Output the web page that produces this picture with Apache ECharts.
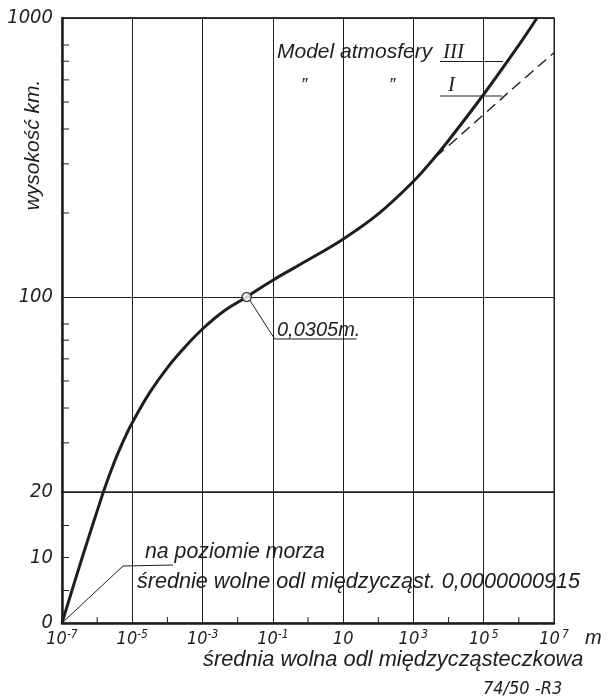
<!DOCTYPE html>
<html><head><meta charset="utf-8">
<script src="https://cdn.jsdelivr.net/npm/echarts@6/dist/echarts.min.js"></script>
<style>html,body{margin:0;padding:0;background:#fff}#c{width:616px;height:698px}</style>
</head><body><div id="c"></div>
<script>
// ---- data (mean free path in m, altitude in km) ----
const mfpLower = [1e-7, 1.93e-7, 3.76e-7, 7.47e-7, 1.5e-6];
const altLower = [0, 5, 10, 15, 20];
const mfpUpper = [1.5e-6, 2.45e-6, 4.0e-6, 6.54e-6, 1.07e-5, 3.19e-5, 1.04e-4, 3.16e-4, 1.03e-3, 4.35e-3, 0.018, 0.0945, 0.937, 9.91, 98.2, 973, 3606];
const altUpper = [20, 23.75, 27.73, 31.87, 36.03, 45.6, 56.2, 66.2, 77.1, 89.6, 100, 114.4, 135.1, 161.1, 198.1, 258.8, 311.1];
const mfpModel3 = [9.7e3, 9.66e4, 9.63e5, 3.28e6];
const altModel3 = [362.4, 529.7, 794.3, 1000];
const mfpModel1 = [973, 3606, 9.7e3, 9.66e4, 9.63e5, 1e7];
const altModel1 = [258.8, 311.1, 347.5, 449.0, 581.0, 750.6];
const markerMfp = [0.018];
const markerAlt = [100];
const xMinorTicks = [1e-6, 1e-4, 1e-2, 1, 100, 1e4, 1e6];
const yMinorTicks = [30, 40, 50, 60, 70, 80, 200, 300, 400, 500, 600, 700, 800];
const xMin = 1e-7, xMax = 1e7;

const INK = '#1e1e1e';
const NARROW = "'Liberation Sans Narrow','DejaVu Sans Condensed','Liberation Sans',sans-serif";
const SANS = "'Liberation Sans','DejaVu Sans',sans-serif";
const SERIF = "'Liberation Serif','DejaVu Serif',serif";

const zip = (a, b) => a.map((v, i) => [v, b[i]]);

function expLabel(v) {
  const e = Math.round(Math.log10(v));
  if (e === 1) return '{b|10}';
  return '{b|10}{s|' + (e < 0 ? '-' : '\u2009') + Math.abs(e) + '}';
}

const chart = echarts.init(document.getElementById('c'), null, {renderer: 'canvas'});
const option = {
  animation: false,
  backgroundColor: '#fff',
  grid: [
    {left: 62, right: 62, top: 18, height: 474, show: true, borderColor: INK, borderWidth: 1, backgroundColor: 'transparent'},
    {left: 62, right: 62, top: 492, height: 131, show: true, borderColor: INK, borderWidth: 1, backgroundColor: 'transparent'}
  ],
  xAxis: [
    {type: 'log', gridIndex: 0, min: xMin, max: xMax, interval: 2, position: 'top',
     axisLine: {show: true, onZero: false, lineStyle: {color: INK, width: 1.5}},
     axisTick: {show: false}, axisLabel: {show: false},
     splitLine: {show: true, lineStyle: {color: INK, width: 1}}},
    {type: 'log', gridIndex: 1, min: xMin, max: xMax, interval: 2, position: 'bottom',
     axisLine: {show: true, onZero: false, lineStyle: {color: INK, width: 2.5}},
     axisTick: {show: false},
     axisLabel: {margin: 6, color: INK, formatter: expLabel,
       rich: {
         b: {fontSize: 18, fontStyle: 'italic', fontFamily: NARROW, color: INK, lineHeight: 20},
         s: {fontSize: 12, fontStyle: 'italic', fontFamily: NARROW, color: INK, verticalAlign: 'top', lineHeight: 12}
       }},
     splitLine: {show: true, lineStyle: {color: INK, width: 1}}}
  ],
  yAxis: [
    {type: 'log', gridIndex: 0, min: 20, max: 1000, logBase: 10,
     axisLine: {show: true, onZero: false, lineStyle: {color: INK, width: 2.5}},
     axisTick: {show: true, inside: true, length: 7, lineStyle: {color: INK, width: 1}},
     axisLabel: {margin: 9, fontSize: 20, fontStyle: 'italic', fontFamily: NARROW, color: INK,
       showMinLabel: true, showMaxLabel: true, formatter: v => String(Math.round(v))},
     splitLine: {show: true, lineStyle: {color: INK, width: 1}}},
    {type: 'value', gridIndex: 1, min: 0, max: 20, interval: 10,
     axisLine: {show: true, onZero: false, lineStyle: {color: INK, width: 2.5}},
     axisTick: {show: true, inside: true, length: 7, lineStyle: {color: INK, width: 1}},
     minorTick: {show: true, splitNumber: 2, length: 7, lineStyle: {color: INK, width: 1}},
     axisLabel: {margin: 9, fontSize: 20, fontStyle: 'italic', fontFamily: NARROW, color: INK, showMaxLabel: false},
     splitLine: {show: false}}
  ],
  series: [
    {type: 'line', xAxisIndex: 1, yAxisIndex: 1, data: zip(mfpLower, altLower), symbol: 'none',
     smooth: 0.4, lineStyle: {color: INK, width: 3}, silent: true},
    {type: 'line', xAxisIndex: 0, yAxisIndex: 0, data: zip(mfpUpper.concat(mfpModel3), altUpper.concat(altModel3)), symbol: 'none',
     smooth: 0.4, lineStyle: {color: INK, width: 3}, silent: true},
    {type: 'line', xAxisIndex: 0, yAxisIndex: 0, data: zip(mfpModel1, altModel1), symbol: 'none',
     smooth: 0.4, lineStyle: {color: INK, width: 1.4, type: [11, 6]}, silent: true},
    {type: 'scatter', xAxisIndex: 0, yAxisIndex: 0, data: zip(markerMfp, markerAlt), symbol: 'circle', symbolSize: 9,
     itemStyle: {color: '#fff', borderColor: INK, borderWidth: 1.5}, z: 5, silent: true},
    {type: 'custom', xAxisIndex: 0, yAxisIndex: 0, data: yMinorTicks.map(v => [xMin, v]), silent: true, clip: false,
     renderItem: (params, api) => {
       const p = api.coord([api.value(0), api.value(1)]);
       return {type: 'line', shape: {x1: p[0], y1: p[1], x2: p[0] + 7, y2: p[1]}, style: {stroke: INK, lineWidth: 1}};
     }},
    {type: 'custom', xAxisIndex: 1, yAxisIndex: 1, data: xMinorTicks.map(v => [v, 0]), silent: true, clip: false,
     renderItem: (params, api) => {
       const p = api.coord([api.value(0), api.value(1)]);
       return {type: 'line', shape: {x1: p[0], y1: p[1], x2: p[0], y2: p[1] - 6}, style: {stroke: INK, lineWidth: 1}};
     }}
  ]
};
chart.setOption(option);

const o = chart.convertToPixel({xAxisIndex: 1, yAxisIndex: 1}, [xMin, 0]);
const m = chart.convertToPixel({xAxisIndex: 0, yAxisIndex: 0}, [markerMfp[0], markerAlt[0]]);
const txt = (text, x, y, size, extra) => Object.assign({type: 'text', x: x, y: y, silent: true,
  style: Object.assign({text: text, fill: INK, fontSize: size, fontStyle: 'italic', fontFamily: SANS, align: 'left', verticalAlign: 'middle'}, extra || {})});
const line = (pts, w) => ({type: 'polyline', silent: true, shape: {points: pts}, style: {stroke: INK, lineWidth: w || 1, fill: null}});

chart.setOption({graphic: [
  // y axis title
  Object.assign(txt('wysokość km.', 33, 145, 21, {align: 'center'}), {rotation: Math.PI / 2}),
  // series labels
  txt('Model atmosfery', 277, 52, 21),
  txt('III', 443, 52, 21, {fontFamily: SERIF}),
  line([[440, 61.5], [503, 61.5]], 1),
  txt('\u201D', 301, 86, 18),
  txt('\u201D', 389, 86, 18),
  txt('I', 448, 85, 21, {fontFamily: SERIF}),
  line([[440, 96], [502, 96]], 1),
  // marker annotation
  line([[m[0] + 3, m[1] + 3], [m[0] + 28, m[1] + 42], [m[0] + 110, m[1] + 42]], 1),
  txt('0,0305m.', 277, 330, 20),
  // sea level annotation
  line([[o[0], o[1]], [o[0] + 61, o[1] - 57], [o[0] + 111, o[1] - 58]], 1),
  txt('na poziomie morza', 145, 552, 21.3),
  txt('średnie wolne odl międzycząst. 0,0000000915', 137, 582, 21.6),
  // x axis unit and title
  txt('m', 585, 638, 20),
  txt('średnia wolna odl międzycząsteczkowa', 203, 660, 21.8),
  txt('74/50 -R3', 483, 689, 18, {fontFamily: NARROW})
]});
</script></body></html>
